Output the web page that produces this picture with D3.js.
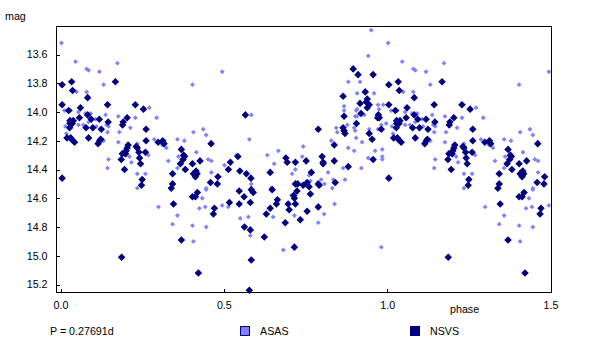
<!DOCTYPE html>
<html>
<head>
<meta charset="utf-8">
<script src="https://cdn.jsdelivr.net/npm/d3@7"></script>
<style>
  body { margin: 0; background: #fff; }
  text { font-family: "Liberation Sans", Arial, sans-serif; font-size: 10.7px; fill: #000; }
</style>
</head>
<body>
<script>
// one folded cycle of each survey, [phase, mag]
var asasPoints = [
  [.003,13.52],[.046,13.65],[.080,13.70],[.086,13.71],[.119,13.72],[.174,13.66],[.132,13.81],[.049,13.86],
  [.080,13.86],[.012,13.99],[.031,13.99],[.055,14.00],[.076,14.01],[.092,14.01],[.107,14.05],[.138,14.02],
  [.177,14.03],[.229,14.04],[.272,13.97],[.294,14.04],[.015,14.10],[.055,14.09],[.070,14.09],[.110,14.10],
  [.141,14.09],[.147,14.10],[.086,14.07],[.018,14.15],[.144,14.14],[.180,14.14],[.214,14.11],[.287,14.19],
  [.358,14.19],[.379,14.20],[.312,14.23],[.324,14.25],[.177,14.21],[.132,14.20],[.235,14.22],[.199,14.30],
  [.211,14.31],[.269,14.30],[.147,14.33],[.217,14.35],[.330,14.34],[.361,14.31],[.416,14.28],[.144,14.39],
  [.235,14.43],[.260,14.43],[.358,14.39],[.404,13.81],[.495,13.72],[.437,14.12],[.446,14.16],[.407,14.14],
  [.452,14.33],[.462,14.34],[.502,14.37],[.462,14.42],[.538,14.30],[.584,14.02],[.578,14.19],[.633,14.30],
  [.667,14.27],[.654,14.36],[.709,14.43],[.719,14.40],[.235,14.53],[.300,14.66],[.358,14.72],[.343,14.78],
  [.404,14.79],[.407,14.90],[.425,14.67],[.434,14.60],[.446,14.53],[.446,14.54],[.443,14.66],[.446,14.80],
  [.495,14.65],[.514,14.66],[.550,14.74],[.575,14.73],[.581,14.86],[.584,14.50],[.645,14.53],[.651,14.73],
  [.682,14.96],[.707,14.58],[.716,14.72],[.951,13.43],[.942,13.61],[.881,13.79],[.917,13.79],[.908,13.87],
  [.960,13.87],[.972,13.95],[.988,13.95],[.975,13.98],[.868,13.96],[.868,13.99],[.908,13.98],[.905,13.99],
  [.902,14.03],[.908,14.03],[.930,14.02],[.878,14.09],[.844,14.11],[.847,14.14],[.899,14.11],[.902,14.13],
  [.945,14.12],[.972,14.12],[.982,14.09],[.997,14.08],[.829,14.20],[.905,14.18],[.923,14.21],[.743,14.24],
  [.881,14.25],[.899,14.27],[.963,14.27],[.985,14.26],[.740,14.31],[.942,14.32],[.985,14.31],[.985,14.33],
  [.921,14.39],[.865,14.39],[.819,14.42],[.761,14.44],[.798,14.47],[.835,14.47],[.871,14.47],[.765,14.48],
  [.808,14.50],[.832,14.53],[.839,14.64],[.807,14.71],[.789,14.77],[.982,14.94]
];

var nsvsPoints = [
  [.005,13.81],[.005,13.95],[.034,13.79],[.037,13.85],[.083,13.90],[.061,13.97],[.025,13.99],[.144,13.95],
  [.168,13.79],[.229,13.95],[.254,13.98],[.083,14.02],[.058,14.04],[.029,14.06],[.039,14.06],[.094,14.05],
  [.119,14.05],[.029,14.08],[.036,14.08],[.028,14.11],[.078,14.11],[.099,14.11],[.125,14.12],[.146,14.07],
  [.204,14.04],[.192,14.07],[.190,14.09],[.262,14.12],[.020,14.18],[.031,14.18],[.034,14.19],[.043,14.21],
  [.086,14.18],[.123,14.19],[.120,14.20],[.115,14.22],[.207,14.23],[.204,14.25],[.201,14.27],[.189,14.29],
  [.199,14.29],[.186,14.33],[.196,14.40],[.232,14.24],[.235,14.25],[.240,14.28],[.260,14.28],[.242,14.32],
  [.245,14.36],[.262,14.20],[.299,14.21],[.313,14.20],[.317,14.22],[.250,14.47],[.461,14.22],[.370,14.26],
  [.377,14.30],[.380,14.31],[.375,14.33],[.367,14.36],[.382,14.40],[.404,14.36],[.427,14.34],[.343,14.43],
  [.407,14.43],[.415,14.41],[.413,14.44],[.418,14.43],[.482,14.45],[.514,14.40],[.520,14.35],[.543,14.31],
  [.549,14.41],[.569,14.43],[.583,14.46],[.642,14.42],[.690,14.32],[.694,14.35],[.719,14.35],[.566,14.02],
  [.005,14.46],[.248,14.51],[.343,14.50],[.339,14.53],[.413,14.45],[.459,14.49],[.480,14.50],[.547,14.55],
  [.584,14.54],[.590,14.56],[.562,14.59],[.581,14.63],[.648,14.54],[.664,14.61],[.661,14.64],[.642,14.67],
  [.630,14.71],[.700,14.68],[.697,14.64],[.719,14.64],[.714,14.58],[.724,14.55],[.719,14.50],[.726,14.50],
  [.716,14.60],[.404,14.59],[.413,14.59],[.419,14.56],[.346,14.64],[.517,14.63],[.547,14.64],[.471,14.67],
  [.468,14.71],[.563,14.80],[.581,14.82],[.624,14.87],[.688,14.77],[.716,14.94],[.734,14.75],[.370,14.89],
  [.187,15.01],[.584,15.03],[.422,15.12],[.578,15.24],[.896,13.70],[.911,13.74],[.957,13.74],[.933,13.86],
  [.865,13.89],[.939,13.91],[.936,13.93],[.945,13.95],[.917,13.94],[.939,13.97],[.920,14.01],[.868,14.03],
  [.973,14.02],[.971,14.04],[.976,14.04],[.906,14.08],[.789,14.12],[.865,14.11],[.868,14.13],[.871,14.15],
  [.982,14.12],[.945,14.15],[.954,14.19],[.838,14.23],[.801,14.31],[.804,14.35],[.804,14.36],[.752,14.34],
  [.838,14.34],[.881,14.38],[.957,14.33],[.768,14.42],[.743,14.51],[.755,14.49],[.761,14.52],[.789,14.50],
  [.792,14.51],[.841,14.49],[.765,14.57],[.789,14.66],[.755,14.69]
];

var xTicks = [0, 0.5, 1.0, 1.5];
var yTicks = [13.6, 13.8, 14.0, 14.2, 14.4, 14.6, 14.8, 15.0, 15.2];

var svgWidth = 594;
var svgHeight = 355;
var box = { left: 56.5, right: 551, top: 26, bottom: 292.5 };

var svg = d3.select("body").append("svg")
  .attr("width", svgWidth)
  .attr("height", svgHeight)
  .style("display", "block");

var x = d3.scaleLinear().domain([0, 1.5]).range([60.5, 550.5]);
var y = d3.scaleLinear().domain([13.6, 15.2]).range([54.5, 284.5]);

// the chart folds 1.5 cycles, so phases under 0.5 come back after 1.0
function fold(points) {
  var out = points.slice();
  points.forEach(function(d) {
    if (d[0] + 1 <= 1.5) out.push([d[0] + 1, d[1]]);
  });
  return out;
}

function drawPoints(points, size, color) {
  var diamond = d3.symbol().type(d3.symbolDiamond2).size(size);
  svg.append("g").selectAll("path")
    .data(fold(points))
    .enter()
    .append("path")
    .attr("d", diamond)
    .attr("fill", color)
    .attr("transform", d => `translate(${x(d[0])}, ${y(d[1])})`);
}

drawPoints(asasPoints, 15, "#8080ff");
drawPoints(nsvsPoints, 36, "#000080");

// frame
svg.append("rect")
  .attr("x", box.left)
  .attr("y", box.top)
  .attr("width", box.right - box.left)
  .attr("height", box.bottom - box.top)
  .attr("fill", "none")
  .attr("stroke", "#000")
  .attr("shape-rendering", "crispEdges");

// axes, ticks point into the plot
var bottomAxis = d3.axisBottom(x).tickValues(xTicks).tickFormat(d3.format(".1f")).tickSize(-4).tickPadding(9);
var leftAxis = d3.axisLeft(y).tickValues(yTicks).tickFormat(d3.format(".1f")).tickSize(-3).tickPadding(9);

var xAxisGroup = svg.append("g")
  .attr("transform", `translate(0, ${box.bottom})`)
  .call(bottomAxis);
xAxisGroup.select(".domain").remove();

var yAxisGroup = svg.append("g")
  .attr("transform", `translate(${box.left}, 0)`)
  .call(leftAxis);
yAxisGroup.select(".domain").remove();

svg.selectAll(".tick text")
  .style("font-family", '"Liberation Sans", Arial, sans-serif')
  .style("font-size", "10.7px");
svg.selectAll(".tick line").attr("shape-rendering", "crispEdges");

// labels
svg.append("text").attr("x", 5).attr("y", 20).text("mag");
svg.append("text").attr("x", 450).attr("y", 313).text("phase");
svg.append("text").attr("x", 50).attr("y", 335).text("P = 0.27691d");

// legend
svg.append("rect").attr("x", 240.5).attr("y", 326.5).attr("width", 9).attr("height", 9)
  .attr("fill", "#8080ff").attr("stroke", "#000080").attr("shape-rendering", "crispEdges");
svg.append("text").attr("x", 260).attr("y", 335).text("ASAS");

svg.append("rect").attr("x", 410.5).attr("y", 326.5).attr("width", 9).attr("height", 9)
  .attr("fill", "#000080").attr("stroke", "#000080").attr("shape-rendering", "crispEdges");
svg.append("text").attr("x", 430).attr("y", 335).text("NSVS");
</script>
</body>
</html>
